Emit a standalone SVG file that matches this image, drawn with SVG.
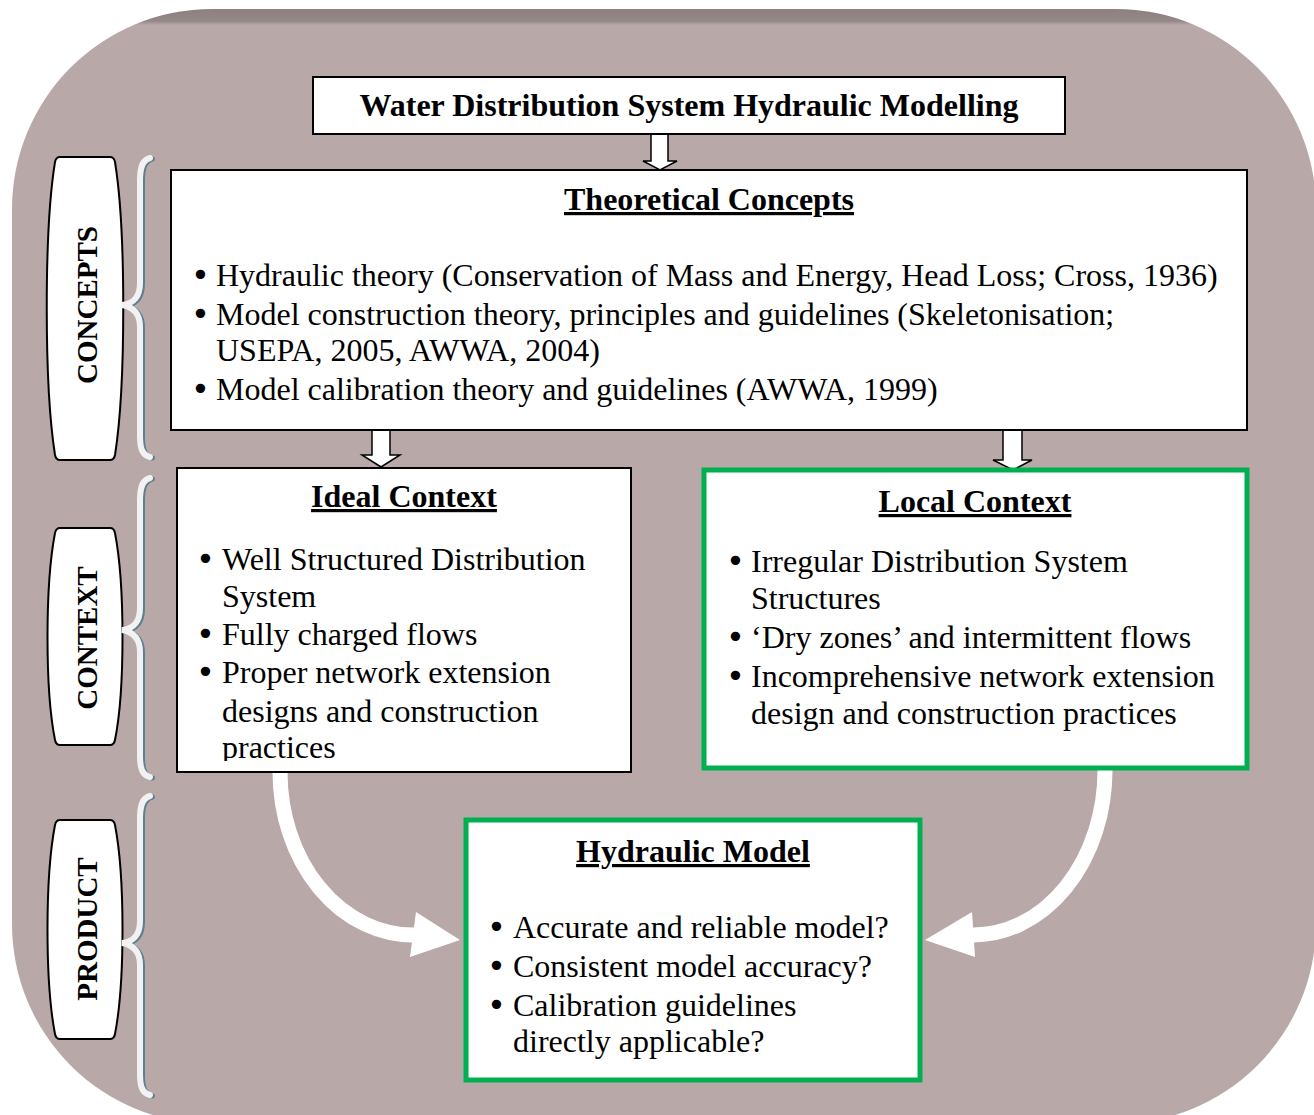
<svg xmlns="http://www.w3.org/2000/svg" width="1314" height="1115" viewBox="0 0 1314 1115">
<defs>
<style>
.t{font-family:"Liberation Serif","Times New Roman",serif;font-size:32px;fill:#000}
.d{font-family:"DejaVu Sans",sans-serif}
.h{font-family:"Liberation Serif","Times New Roman",serif;font-size:32px;font-weight:bold;fill:#000;text-anchor:middle}
.u{text-decoration:underline}
.side{font-family:"Liberation Serif","Times New Roman",serif;font-size:29px;font-weight:bold;fill:#000;text-anchor:middle}
.bx{fill:#fff;stroke:#000;stroke-width:2}
.gx{fill:#fff;stroke:#00b050;stroke-width:5}
.barrel{fill:#fff;stroke:#000;stroke-width:2}
.hollow{fill:#fff;stroke:#000;stroke-width:1.5;stroke-linejoin:miter}
.brace{fill:none;stroke:#f2f2f2;stroke-width:6;stroke-linecap:round}
.braceS{fill:none;stroke:#5e808e;stroke-width:5;stroke-linecap:round}
.curve{fill:none;stroke:#fff;stroke-width:15}
</style>
<linearGradient id="bg" gradientUnits="userSpaceOnUse" x1="0" y1="9" x2="0" y2="25">
<stop offset="0" stop-color="#8c8081"/>
<stop offset="0.75" stop-color="#938788"/>
<stop offset="1" stop-color="#b9a8a8"/>
</linearGradient>
<clipPath id="idealClip"><rect x="177" y="468" width="454" height="293"/></clipPath>
</defs>

<g id="background">
<rect x="12" y="9" width="1304" height="1115" rx="200" ry="200" fill="url(#bg)"/>
</g>

<g id="connectors">
<polygon class="hollow" points="651,134 668,134 668,161 677,161 660,170 643,161 651,161"/>
<polygon class="hollow" points="372,430 390,430 390,455 400,455 381,467 362,455 372,455"/>
<polygon class="hollow" points="1003,430 1022,430 1022,460 1032,460 1013,470 993,460 1003,460"/>
<path class="curve" d="M280,772 A133,163 0 0 0 415,935"/>
<polygon fill="#fff" points="416,912 460,940 410,957"/>
<path class="curve" d="M1105,770 A132,165 0 0 1 972,935"/>
<polygon fill="#fff" points="972,912 925,940 975,957"/>
</g>

<g id="title">
<rect class="bx" x="313" y="77" width="752" height="57"/>
<text class="h" x="689" y="116">Water Distribution System Hydraulic Modelling</text>
</g>

<g id="theoretical">
<rect class="bx" x="171" y="170" width="1076" height="260"/>
<text class="h u" x="709" y="210">Theoretical Concepts</text>
<text class="t" x="191" y="286"><tspan class="d">•</tspan><tspan x="216">Hydraulic theory (Conservation of Mass and Energy, Head Loss; Cross, 1936)</tspan></text>
<text class="t" x="191" y="325"><tspan class="d">•</tspan><tspan x="216">Model construction theory, principles and guidelines (Skeletonisation;</tspan></text>
<text class="t" x="216" y="361">USEPA, 2005, AWWA, 2004)</text>
<text class="t" x="191" y="400"><tspan class="d">•</tspan><tspan x="216">Model calibration theory and guidelines (AWWA, 1999)</tspan></text>
</g>

<g id="ideal">
<rect class="bx" x="177" y="468" width="454" height="304"/>
<g clip-path="url(#idealClip)">
<text class="h u" x="404" y="507">Ideal Context</text>
<text class="t" x="196" y="570"><tspan class="d">•</tspan><tspan x="222">Well Structured Distribution</tspan></text>
<text class="t" x="222" y="607">System</text>
<text class="t" x="196" y="645"><tspan class="d">•</tspan><tspan x="222">Fully charged flows</tspan></text>
<text class="t" x="196" y="683"><tspan class="d">•</tspan><tspan x="222">Proper network extension</tspan></text>
<text class="t" x="222" y="722">designs and construction</text>
<text class="t" x="222" y="758">practices</text>
</g>
</g>

<g id="local">
<rect class="gx" x="704" y="470" width="543" height="298"/>
<text class="h u" x="975" y="512">Local Context</text>
<text class="t" x="726" y="572"><tspan class="d">•</tspan><tspan x="751">Irregular Distribution System</tspan></text>
<text class="t" x="751" y="609">Structures</text>
<text class="t" x="726" y="648"><tspan class="d">•</tspan><tspan x="751">‘Dry zones’ and intermittent flows</tspan></text>
<text class="t" x="726" y="687"><tspan class="d">•</tspan><tspan x="751">Incomprehensive network extension</tspan></text>
<text class="t" x="751" y="724">design and construction practices</text>
</g>

<g id="hydraulic-model">
<rect class="gx" x="466" y="820" width="454" height="260"/>
<text class="h u" x="693" y="862">Hydraulic Model</text>
<text class="t" x="487" y="938"><tspan class="d">•</tspan><tspan x="513">Accurate and reliable model?</tspan></text>
<text class="t" x="487" y="977"><tspan class="d">•</tspan><tspan x="513">Consistent model accuracy?</tspan></text>
<text class="t" x="487" y="1016"><tspan class="d">•</tspan><tspan x="513">Calibration guidelines</tspan></text>
<text class="t" x="513" y="1052">directly applicable?</text>
</g>

<g id="label-concepts">
<path class="barrel" d="M60,157 L110,157 Q114,157 115,162 C126,230 126,385 115,455 Q114,460 110,460 L60,460 Q56,460 55,455 C44,385 44,230 55,162 Q56,157 60,157 Z"/>
<text class="side" x="97" y="305" transform="rotate(-90 97 305)">CONCEPTS</text>
<path class="braceS" transform="translate(2.5,1)" d="M150,158 C142,160 140,168 140,180 L140,283 C140,296 134,304 122,305 C134,307 140,314 140,327 L140,436 C140,448 142,455 150,457"/>
<path class="brace" d="M150,158 C142,160 140,168 140,180 L140,283 C140,296 134,304 122,305 C134,307 140,314 140,327 L140,436 C140,448 142,455 150,457"/>
</g>

<g id="label-context">
<path class="barrel" d="M60,528 L110,528 Q114,528 115,533 C125,585 125,690 115,740 Q114,745 110,745 L60,745 Q56,745 55,740 C45,690 45,585 55,533 Q56,528 60,528 Z"/>
<text class="side" x="97" y="638" transform="rotate(-90 97 638)">CONTEXT</text>
<path class="braceS" transform="translate(2.5,1)" d="M150,478 C142,480 140,488 140,500 L140,608 C140,621 134,629 122,630 C134,632 140,639 140,652 L140,756 C140,768 142,775 150,777"/>
<path class="brace" d="M150,478 C142,480 140,488 140,500 L140,608 C140,621 134,629 122,630 C134,632 140,639 140,652 L140,756 C140,768 142,775 150,777"/>
</g>

<g id="label-product">
<path class="barrel" d="M60,820 L110,820 Q114,820 115,825 C125,877 125,982 115,1034 Q114,1039 110,1039 L60,1039 Q56,1039 55,1034 C45,982 45,877 55,825 Q56,820 60,820 Z"/>
<text class="side" x="97" y="929" transform="rotate(-90 97 929)">PRODUCT</text>
<path class="braceS" transform="translate(2.5,1)" d="M150,796 C142,798 140,806 140,818 L140,921 C140,934 134,942 122,943 C134,945 140,952 140,965 L140,1074 C140,1086 142,1093 150,1095"/>
<path class="brace" d="M150,796 C142,798 140,806 140,818 L140,921 C140,934 134,942 122,943 C134,945 140,952 140,965 L140,1074 C140,1086 142,1093 150,1095"/>
</g>
</svg>
